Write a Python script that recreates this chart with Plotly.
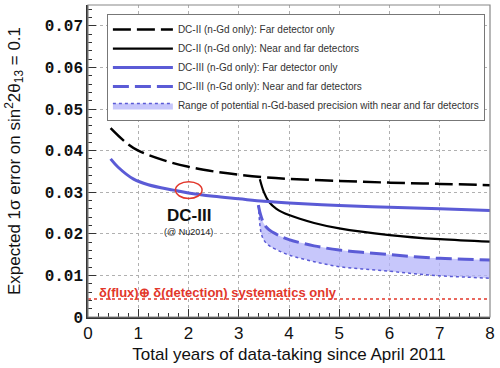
import plotly.graph_objects as go

# ---- data ----
x_dc2_far = [0.45, 0.75, 1.0, 1.5, 2.0, 2.5, 3.0, 3.5, 4.0, 5.0, 6.0, 7.0, 8.0]
y_dc2_far = [0.0454, 0.0420, 0.0400, 0.0377, 0.0361, 0.0350, 0.0342, 0.0336, 0.0332, 0.0327, 0.0323, 0.0320, 0.0317]

x_dc3_far = [0.45, 0.6, 0.9, 1.2, 1.7, 2.0, 2.5, 3.0, 3.5, 4.0, 5.0, 6.0, 7.0, 8.0]
y_dc3_far = [0.0380, 0.0360, 0.0332, 0.0318, 0.0305, 0.0298, 0.0290, 0.0284, 0.0278, 0.0274, 0.0268, 0.0264, 0.0260, 0.0256]

x_dc2_nf = [3.42, 3.5, 3.6, 3.75, 4.0, 4.5, 5.0, 6.0, 7.0, 8.0]
y_dc2_nf = [0.0331, 0.0300, 0.0277, 0.0260, 0.0245, 0.0226, 0.0213, 0.0197, 0.0187, 0.0181]

x_dc3_nf = [3.39, 3.42, 3.45, 3.5, 3.6, 3.75, 4.0, 4.5, 5.0, 5.5, 6.0, 6.5, 7.0, 7.5, 8.0]
y_dc3_nf = [0.0269, 0.0252, 0.0240, 0.0224, 0.0210, 0.0199, 0.0186, 0.0171, 0.0161, 0.0155, 0.0150, 0.0145, 0.0141, 0.0139, 0.0137]
y_range_low = [0.0269, 0.0222, 0.0200, 0.0185, 0.0172, 0.0162, 0.0149, 0.0133, 0.0121, 0.0115, 0.0110, 0.0104, 0.0099, 0.0096, 0.0093]

syst_level = 0.0043
x_span = [0, 8]

x_ticks = [0, 1, 2, 3, 4, 5, 6, 7, 8]
y_ticks = [0, 0.01, 0.02, 0.03, 0.04, 0.05, 0.06, 0.07]
y_ticktext = ["0", "0.01", "0.02", "0.03", "0.04", "0.05", "0.06", "0.07"]

names = [
    "DC-II (n-Gd only): Far detector only",
    "DC-II (n-Gd only): Near and far detectors",
    "DC-III (n-Gd only): Far detector only",
    "DC-III (n-Gd only): Near and far detectors",
    "Range of potential n-Gd-based precision with near and far detectors",
]

# annotation positions (data coords)
circle_x = (1.74, 2.27)
circle_y = (0.0285, 0.0325)
label_dc3 = (2.0, 0.0245)
label_nu = (2.0, 0.0205)
label_syst = (0.17, 0.0058)

BLUE = "#5b5bd6"
FILL = "rgba(180,180,250,0.75)"
RED = "#e2372b"

fig = go.Figure()
fig.add_trace(go.Scatter(x=x_dc2_far, y=y_dc2_far, mode="lines", name=names[0],
                         line=dict(color="black", width=2.5, dash="18px,6px", shape="spline")))
fig.add_trace(go.Scatter(x=x_dc2_nf, y=y_dc2_nf, mode="lines", name=names[1],
                         line=dict(color="black", width=2.2, shape="spline")))
fig.add_trace(go.Scatter(x=x_dc3_far, y=y_dc3_far, mode="lines", name=names[2],
                         line=dict(color=BLUE, width=3, shape="spline")))
fig.add_trace(go.Scatter(x=x_dc3_nf, y=y_dc3_nf, mode="lines", name=names[3],
                         line=dict(color=BLUE, width=3, dash="16px,6px", shape="spline")))
fig.add_trace(go.Scatter(x=x_dc3_nf, y=y_range_low, mode="lines", name=names[4],
                         fill="tonexty", fillcolor=FILL,
                         line=dict(color=BLUE, width=1.5, dash="dot", shape="spline")))
fig.add_trace(go.Scatter(x=x_span, y=[syst_level, syst_level], mode="lines", showlegend=False,
                         line=dict(color=RED, width=1.5, dash="dot")))

fig.add_shape(type="circle", xref="x", yref="y", x0=circle_x[0], x1=circle_x[1],
              y0=circle_y[0], y1=circle_y[1], line=dict(color=RED, width=1.5))
# frame (top/right gray)
fig.add_shape(type="rect", xref="paper", yref="paper", x0=0, x1=1, y0=0, y1=1,
              line=dict(color="#888888", width=1.2), layer="above")

fig.add_annotation(x=label_dc3[0], y=label_dc3[1], text="<b>DC-III</b>", showarrow=False,
                   font=dict(family="Liberation Sans", size=17, color="#111111"))
fig.add_annotation(x=label_nu[0], y=label_nu[1], text="(@ Nu2014)", showarrow=False,
                   font=dict(family="Liberation Sans", size=9, color="#222222"))
fig.add_annotation(x=label_syst[0], y=label_syst[1], xanchor="left",
                   text="<b>δ(flux)⊕ δ(detection) systematics only</b>", showarrow=False,
                   font=dict(family="Liberation Sans", size=13, color=RED))

fig.update_layout(
    width=500, height=368,
    margin=dict(l=88, r=10, t=5, b=51),
    paper_bgcolor="white", plot_bgcolor="white",
    showlegend=True,
    legend=dict(x=0.047, y=0.971, xanchor="left", yanchor="top",
                bgcolor="white", bordercolor="#777777", borderwidth=1,
                font=dict(family="Liberation Sans", size=10, color="#333333"),
                itemwidth=60, tracegroupgap=0, traceorder="normal"),
    xaxis=dict(range=[0, 8], tickvals=x_ticks, ticks="inside", ticklen=8, tickcolor="#333",
               showline=True, linecolor="#333", linewidth=1.5, automargin=False,
               showgrid=True, gridcolor="#b0b0b0", griddash="dot", gridwidth=1,
               zeroline=False,
               minor=dict(dtick=0.2, ticks="inside", ticklen=4, tickcolor="#333", showgrid=False),
               tickfont=dict(family="Liberation Sans", size=17, color="#111"),
               title=dict(text="Total years of data-taking since April 2011", standoff=6,
                          font=dict(family="Liberation Sans", size=17, color="#111"))),
    yaxis=dict(range=[0, 0.075], tickvals=y_ticks, ticktext=y_ticktext,
               ticks="inside", ticklen=8, tickcolor="#333", automargin=False,
               showline=True, linecolor="#333", linewidth=1.5,
               showgrid=True, gridcolor="#b0b0b0", griddash="dot", gridwidth=1,
               zeroline=False,
               minor=dict(dtick=0.002, ticks="inside", ticklen=4, tickcolor="#333", showgrid=False),
               tickfont=dict(family="Liberation Mono", size=16, color="#111", weight="bold"),
               title=dict(text="Expected 1σ error on sin<sup>2</sup>2θ<sub>13</sub> = 0.1", standoff=20,
                          font=dict(family="Liberation Sans", size=17, color="#111"))),
)

fig.write_html("out.html", post_script="document.body.style.margin='0px';",
               config={"displayModeBar": False})
